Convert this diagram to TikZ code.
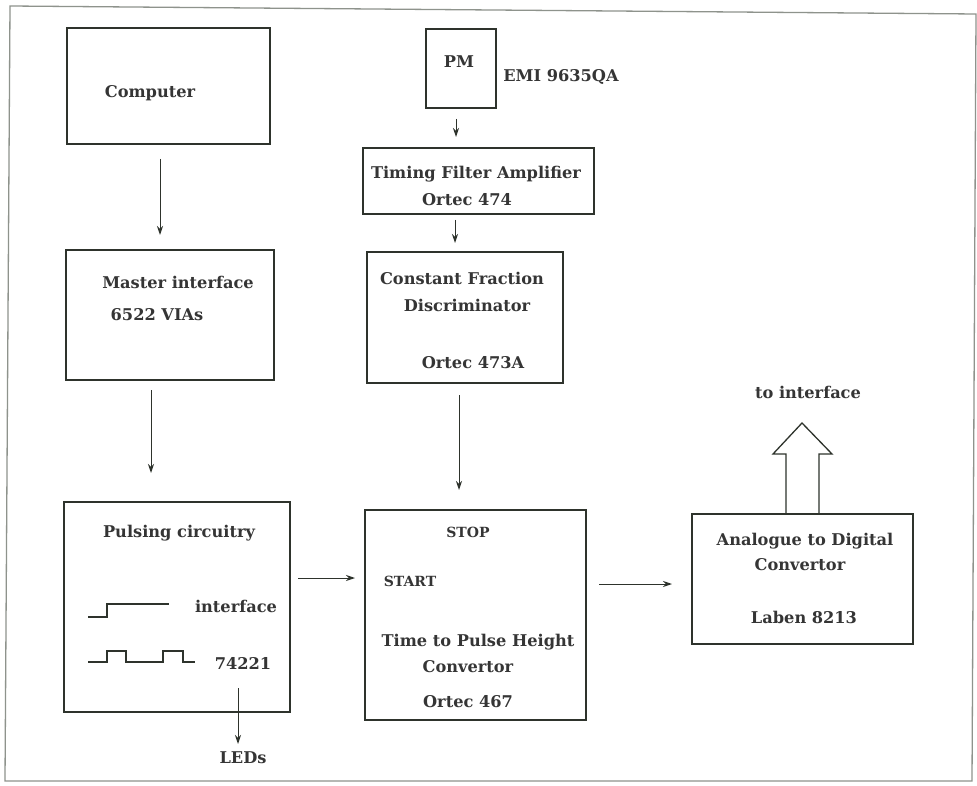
\documentclass[tikz,border=0pt]{standalone}
\usepackage{fontspec}
\setmainfont{DejaVu Serif}
\usetikzlibrary{arrows.meta}
\definecolor{ink}{HTML}{2E332C}
\definecolor{txt}{HTML}{353535}
\definecolor{framec}{HTML}{8E938C}
\begin{document}
\begin{tikzpicture}[x=1pt,y=-1pt,
  box/.style={draw=ink,line width=2pt,inner sep=0pt,anchor=north west},
  lbl/.style={text=txt,font=\fontsize{16.2}{19}\selectfont\bfseries,inner sep=0pt},
  smalllbl/.style={text=txt,font=\fontsize{14}{17}\selectfont\bfseries,inner sep=0pt},
  conn/.style={draw=ink,line width=1pt,-{Stealth[length=9pt,width=6pt]}},
  wave/.style={draw=ink,line width=1.1pt},
  hollow/.style={draw=ink,line width=1.3pt,line join=miter}]
\useasboundingbox (0,0) rectangle (977,786);
\fill[white] (0,0) rectangle (977,786);
\draw[framec,line width=1.3pt] (10,6) -- (976,14) -- (972,781) -- (5,781) -- cycle;

% boxes
\node[box,minimum width=203pt,minimum height=116pt] (computer) at (66,27) {};
\node[box,minimum width=208pt,minimum height=130pt] (master) at (65,249) {};
\node[box,minimum width=226pt,minimum height=210pt] (pulsing) at (63,501) {};
\node[box,minimum width=70pt,minimum height=79pt] (pm) at (425,28) {};
\node[box,minimum width=231pt,minimum height=66pt] (tfa) at (362,147) {};
\node[box,minimum width=196pt,minimum height=131pt] (cfd) at (366,251) {};
\node[box,minimum width=221pt,minimum height=210pt] (tphc) at (364,509) {};
\node[box,minimum width=221pt,minimum height=130pt] (adc) at (691,513) {};

% labels
\node[lbl] (tcomp) at (150,93) {Computer};
\node[lbl] (tmast) at (178,282) {Master interface};
\node[lbl] (tvia) at (157,315) {6522 VIAs};
\node[lbl] (tpm) at (459,62) {PM};
\node[lbl] (temi) at (561,77) {EMI 9635QA};
\node[lbl] (ttfa) at (476,174) {Timing Filter Amplifier};
\node[lbl] (to474) at (467,200) {Ortec 474};
\node[lbl] (tcf) at (462,278) {Constant Fraction};
\node[lbl] (tdisc) at (467,305) {Discriminator};
\node[lbl] (to473) at (473,363) {Ortec 473A};
\node[lbl] (tpuls) at (179,533) {Pulsing circuitry};
\node[lbl] (tintf) at (236,606) {interface};
\node[lbl] (t742) at (243,663) {74221};
\node[lbl] (leds) at (243,758) {LEDs};
\node[smalllbl] (tstop) at (468,532) {STOP};
\node[smalllbl] (tstart) at (410,581) {START};
\node[lbl] (ttph) at (478,642) {Time to Pulse Height};
\node[lbl] (tconv) at (468,667) {Convertor};
\node[lbl] (to467) at (468,702) {Ortec 467};
\node[lbl] (ttoint) at (808,392) {to interface};
\node[lbl] (tadc) at (805,541) {Analogue to Digital};
\node[lbl] (tconv2) at (800,565) {Convertor};
\node[lbl] (tlab) at (804,617) {Laben 8213};

% connectors
\draw[conn,shorten <=14pt,shorten >=14pt] (160,0 |- computer.south) -- (160,0 |- master.north);
\draw[conn,shorten <=9pt,shorten >=28pt] (151,0 |- master.south) -- (151,0 |- pulsing.north);
\draw[conn,shorten <=10pt,shorten >=10pt] (456,0 |- pm.south) -- (456,0 |- tfa.north);
\draw[conn,shorten <=5pt,shorten >=8pt] (455,0 |- tfa.south) -- (455,0 |- cfd.north);
\draw[conn,shorten <=11pt,shorten >=19pt] (459,0 |- cfd.south) -- (459,0 |- tphc.north);
\draw[conn,shorten <=7pt,shorten >=9pt] (0,578 -| pulsing.east) -- (0,578 -| tphc.west);
\draw[conn,shorten <=12pt,shorten >=19pt] (0,584 -| tphc.east) -- (0,584 -| adc.west);
\coordinate (ledstart) at (238,688);
\coordinate (ledend) at (238,744);
\draw[conn] (ledstart) -- (ledend);

% waveforms
\draw[wave] (88,617) -- (107,617) -- (107,604) -- (169,604);
\draw[wave] (88,662) -- (107,662) -- (107,651) -- (126,651) -- (126,662)
  -- (163,662) -- (163,651) -- (183,651) -- (183,662) -- (195,662);

% hollow output arrow
\draw[hollow] (786,0 |- adc.north) -- (786,454) -- (773,454) -- (802,423)
  -- (832,454) -- (819,454) -- (819,0 |- adc.north);
\end{tikzpicture}
\end{document}
